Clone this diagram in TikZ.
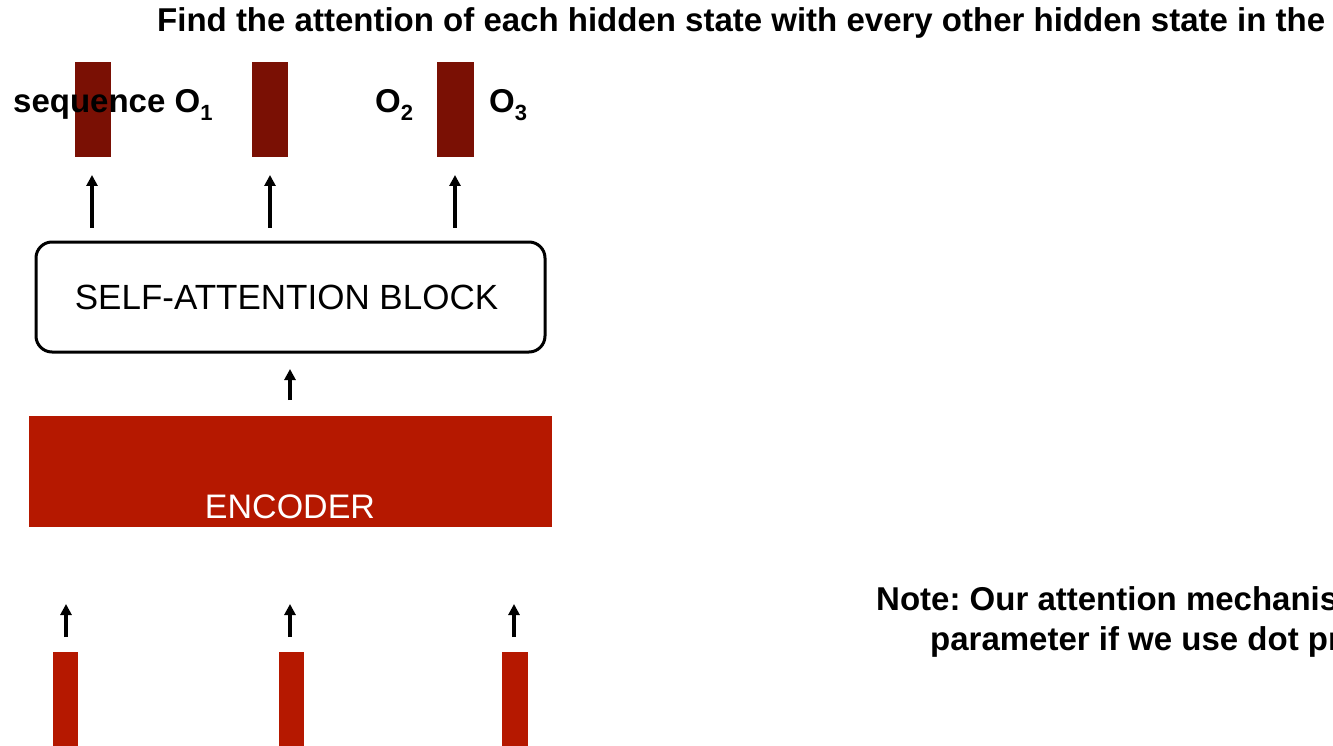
\documentclass[tikz,border=0pt]{standalone}
\usepackage{fontspec}
\setmainfont{Liberation Sans}
\usetikzlibrary{arrows.meta}
\definecolor{outred}{RGB}{122,16,4}
\definecolor{encred}{RGB}{181,24,0}
\newcommand{\subidx}[1]{\raisebox{-0.22em}{\fontsize{22}{22}\selectfont #1}}
\frenchspacing
\begin{document}
\begin{tikzpicture}[x=1pt,y=-1pt,
  bigtext/.style={font=\fontsize{33}{40}\selectfont\bfseries, inner sep=0pt, anchor=base west},
  uparrow/.style={line width=3.4pt, -{Triangle[width=11pt,length=11pt]}},
  blockbox/.style={draw=black, line width=3pt, rounded corners=16pt, fill=white}]
\useasboundingbox (0,0) rectangle (1333,746);
\clip (0,0) rectangle (1333,746);

% output vectors
\fill[outred] (75,62) rectangle (111,157);
\fill[outred] (252,62) rectangle (288,157);
\fill[outred] (437,62) rectangle (474,157);

% heading text, wrapping onto the output row
\node[bigtext] (title) at (157,32) {Find the attention of each hidden state with every other hidden state in the};
\node[bigtext] (seq) at (13,113) {sequence O\subidx{1}};
\node[bigtext] (lo2) at (375,113) {O\subidx{2}};
\node[bigtext] (lo3) at (489,113) {O\subidx{3}};

% self-attention block
\node[blockbox, minimum width=509pt, minimum height=110pt, font=\fontsize{35}{40}\selectfont] (sab) at (290.5,297) {\hspace*{-8pt}SELF-ATTENTION BLOCK};

% arrows from the block to the outputs
\foreach \i/\x in {1/92,2/270,3/455} {
  \coordinate (s\i) at (\x,228);
  \coordinate (t\i) at (\x,175);
  \draw[uparrow] (s\i) -- (t\i);
}

% encoder
\fill[encred] (29,416) rectangle (552,527);
\node[font=\fontsize{34}{40}\selectfont, text=white, inner sep=0pt, anchor=base] (enclabel) at (290,518) {ENCODER};
\coordinate (e0) at (290,400);
\coordinate (e1) at (290,369);
\draw[uparrow] (e0) -- (e1);

% inputs
\fill[encred] (53,652) rectangle (78,746);
\fill[encred] (279,652) rectangle (304,746);
\fill[encred] (502,652) rectangle (528,746);
\foreach \i/\x in {1/66,2/290,3/514} {
  \coordinate (a\i) at (\x,637);
  \coordinate (b\i) at (\x,604);
  \draw[uparrow] (a\i) -- (b\i);
}

% note
\node[bigtext] (note1) at (876,610) {Note: Our attention mechanism};
\node[bigtext] (note2) at (930,650) {parameter if we use dot product};
\end{tikzpicture}
\end{document}
